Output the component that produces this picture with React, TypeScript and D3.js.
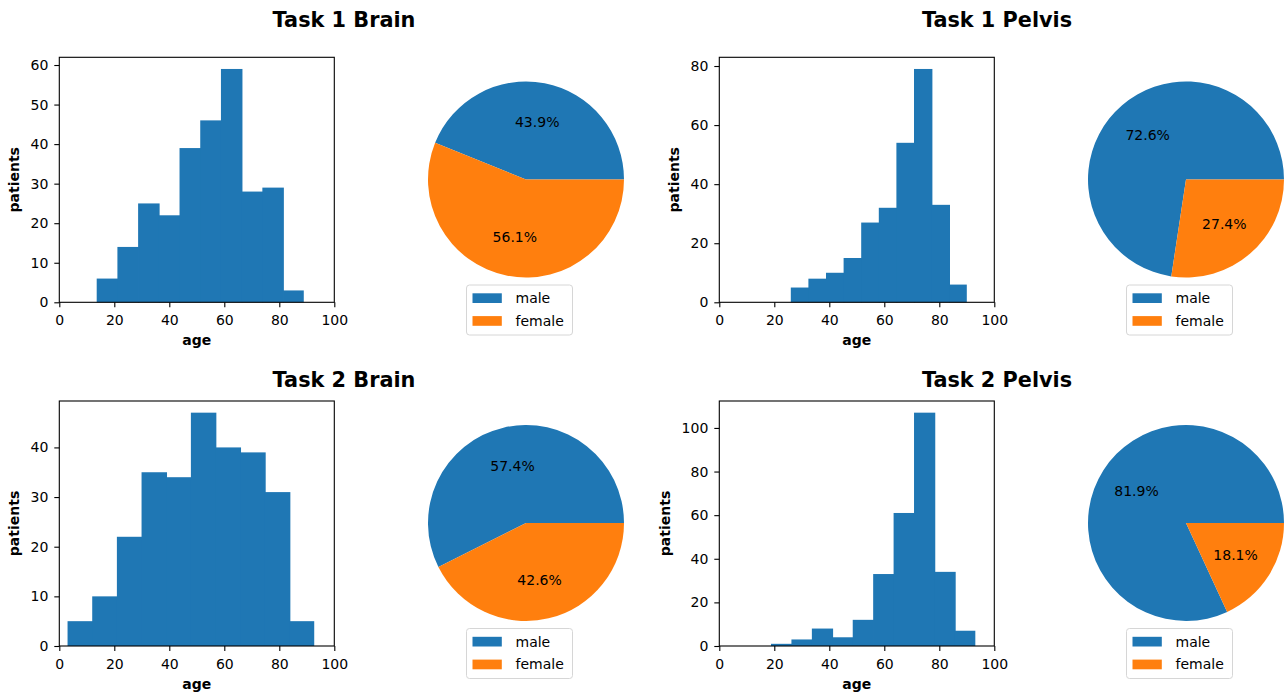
import { useRef, useEffect } from 'react'
import * as d3 from 'd3'

// panel titles
const titles = ['Task 1 Brain', 'Task 1 Pelvis', 'Task 2 Brain', 'Task 2 Pelvis']

// age histograms: 10 bins between min and max age
const ageMin = [13.6, 26, 3, 18.8]
const ageMax = [88.9, 90, 92.7, 93.1]
const task1BrainCounts = [6, 14, 25, 22, 39, 46, 59, 28, 29, 3]
const task1PelvisCounts = [5, 8, 10, 15, 27, 32, 54, 79, 33, 6]
const task2BrainCounts = [5, 10, 22, 35, 34, 47, 40, 39, 31, 5]
const task2PelvisCounts = [1, 3, 8, 4, 12, 33, 61, 107, 34, 7]
const histCounts = [task1BrainCounts, task1PelvisCounts, task2BrainCounts, task2PelvisCounts]

// sex split in percent
const sexLabels = ['male', 'female']
const task1BrainSex = [43.9, 56.1]
const task1PelvisSex = [72.6, 27.4]
const task2BrainSex = [57.4, 42.6]
const task2PelvisSex = [81.9, 18.1]
const sexShares = [task1BrainSex, task1PelvisSex, task2BrainSex, task2PelvisSex]

// tick labels
const xTicks = [0, 20, 40, 60, 80, 100]
const yTicks = [
  [0, 10, 20, 30, 40, 50, 60],
  [0, 20, 40, 60, 80],
  [0, 10, 20, 30, 40],
  [0, 20, 40, 60, 80, 100],
]

const colors = ['#1f77b4', '#ff7f0e']
const font = "'DejaVu Sans', sans-serif"

export default function App() {
  const svgRef = useRef<SVGSVGElement>(null)

  useEffect(() => {
    if (!svgRef.current) return
    const svg = d3.select(svgRef.current)
    svg.selectAll('*').remove()

    const colX = [59.3, 719.3]
    const rowY = [57.3, 401]
    const w = 275
    const h = 245
    const pieX = [526, 1186]
    const pieY = [179.5, 523]
    const r = 98

    titles.forEach((title, i) => {
      const col = i % 2
      const row = Math.floor(i / 2)

      svg.append('text')
        .attr('x', col === 0 ? 344 : 997)
        .attr('y', 26.7 + row * 360)
        .attr('text-anchor', 'middle')
        .attr('font-family', font)
        .attr('font-weight', 'bold')
        .attr('font-size', '20.8px')
        .text(title)

      // histogram
      const counts = histCounts[i]
      const lo = ageMin[i]
      const hi = ageMax[i]
      const step = (hi - lo) / counts.length
      const bins = counts.map((c, j) => ({ x0: lo + j * step, x1: lo + (j + 1) * step, c, last: j === counts.length - 1 }))

      const x = d3.scaleLinear().domain([0, 100]).range([0, w])
      const y = d3.scaleLinear().domain([0, (d3.max(counts) || 1) * 1.05]).range([h, 0])

      const g = svg.append('g')
        .attr('transform', `translate(${colX[col]},${rowY[row]})`)

      g.selectAll('.bar')
        .data(bins)
        .join('rect')
        .attr('class', 'bar')
        .attr('x', d => x(d.x0))
        .attr('width', d => x(d.x1) - x(d.x0) + (d.last ? 0 : 0.8))
        .attr('y', d => y(d.c))
        .attr('height', d => h - y(d.c))
        .attr('fill', colors[0])

      g.append('rect')
        .attr('width', w)
        .attr('height', h)
        .attr('fill', 'none')
        .attr('stroke', '#000')
        .attr('stroke-width', 1.1)

      const xAxis = g.append('g')
        .attr('transform', `translate(0,${h})`)
        .call(d3.axisBottom(x).tickValues(xTicks).tickSize(5).tickPadding(8).tickSizeOuter(0))
      xAxis.select('.domain').remove()
      xAxis.selectAll('.tick line').attr('stroke', '#000').attr('stroke-width', 1.1)
      xAxis.selectAll('text')
        .attr('fill', '#000')
        .attr('font-size', '14px')
        .attr('font-family', font)

      const yAxis = g.append('g')
        .call(d3.axisLeft(y).tickValues(yTicks[i]).tickSize(5).tickPadding(6).tickSizeOuter(0))
      yAxis.select('.domain').remove()
      yAxis.selectAll('.tick line').attr('stroke', '#000').attr('stroke-width', 1.1)
      yAxis.selectAll('text')
        .attr('fill', '#000')
        .attr('font-size', '14px')
        .attr('font-family', font)

      const maxChars = d3.max(yTicks[i], t => String(t).length) || 1
      const labelX = -11 - maxChars * 8.9 - 12

      g.append('text')
        .attr('transform', `translate(${labelX},${h / 2}) rotate(-90)`)
        .attr('text-anchor', 'middle')
        .attr('font-family', font)
        .attr('font-weight', 'bold')
        .attr('font-size', '14px')
        .text('patients')

      g.append('text')
        .attr('x', w / 2)
        .attr('y', h + 43)
        .attr('text-anchor', 'middle')
        .attr('font-family', font)
        .attr('font-weight', 'bold')
        .attr('font-size', '14px')
        .text('age')

      // pie: starts at 3 o'clock, runs counterclockwise
      const shares = sexShares[i]
      const pie = d3.pie<number>().sort(null).startAngle(Math.PI / 2).endAngle(Math.PI / 2 - 2 * Math.PI)
      const arcs = pie(shares)
      const arc = d3.arc<d3.PieArcDatum<number>>().innerRadius(0).outerRadius(r)
      const labelArc = d3.arc<d3.PieArcDatum<number>>().innerRadius(r * 0.6).outerRadius(r * 0.6)

      const pg = svg.append('g')
        .attr('transform', `translate(${pieX[col]},${pieY[row]})`)

      pg.selectAll('path')
        .data(arcs)
        .join('path')
        .attr('d', arc)
        .attr('fill', (_, j) => colors[j])

      pg.selectAll('.pct')
        .data(arcs)
        .join('text')
        .attr('class', 'pct')
        .attr('transform', d => `translate(${labelArc.centroid(d)})`)
        .attr('text-anchor', 'middle')
        .attr('dy', '0.35em')
        .attr('font-family', font)
        .attr('font-size', '14px')
        .text(d => `${d.data.toFixed(1)}%`)

      // legend
      const lg = pg.append('g').attr('transform', `translate(-59.5,${r + 7.5})`)
      lg.append('rect')
        .attr('width', 106)
        .attr('height', 50)
        .attr('rx', 3)
        .attr('fill', '#fff')
        .attr('stroke', '#d6d6d6')
        .attr('stroke-width', 1)

      sexLabels.forEach((label, j) => {
        lg.append('rect')
          .attr('x', 6)
          .attr('y', 8.3 + j * 22.8)
          .attr('width', 29.3)
          .attr('height', 9.7)
          .attr('fill', colors[j])
        lg.append('text')
          .attr('x', 49)
          .attr('y', 13.2 + j * 22.8)
          .attr('dy', '0.35em')
          .attr('font-family', font)
          .attr('font-size', '14px')
          .text(label)
      })
    })
  }, [])

  return (
    <svg
      ref={svgRef}
      width={1285}
      height={696}
      style={{ position: 'absolute', left: 0, top: 0, background: '#fff' }}
    />
  )
}
